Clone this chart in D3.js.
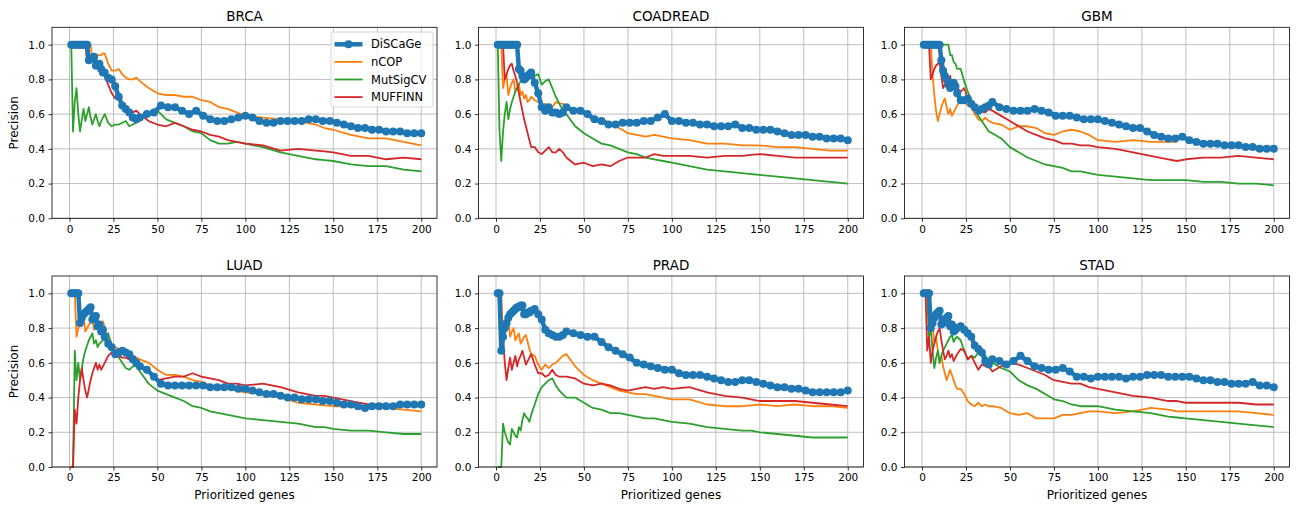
<!DOCTYPE html>
<html>
<head>
<meta charset="utf-8">
<script src="https://cdn.jsdelivr.net/npm/d3@7/dist/d3.min.js"></script>
<style>
    body { margin: 0; background: #fff; }
    text { font-family: "DejaVu Sans", sans-serif; fill: #000; }
</style>
</head>
<body>
<div id="chart"></div>
<script>
// x positions (prioritized genes) where the thin lines were read
const genesThin = [1,2,3,4,5,6,7,8,9,10,11,12,13,14,15,16,17,18,19,20,
    22,24,26,28,30,32,34,36,38,40,
    45,50,55,60,65,70,75,80,85,90,95,100,
    110,120,130,140,145,150,160,170,180,190,200];
// x positions for DiSCaGe (drawn with markers, so a denser read)
const genesDisc = [1,2,3,4,5,6,7,8,9,10,11,12,13,14,15,16,17,18,19,20,
    22,24,26,28,30,32,34,36,38,40,
    44,48,52,56,60,64,68,72,76,80,84,88,92,96,100,104,108,112,116,120,
    124,128,132,136,140,144,148,152,156,160,164,168,172,176,180,184,188,192,196,200];

const panels = ["BRCA", "COADREAD", "GBM", "LUAD", "PRAD", "STAD"];
const methods = ["DiSCaGe", "nCOP", "MutSigCV", "MUFFINN"];
const colors = ["#1f77b4", "#ff7f0e", "#2ca02c", "#d62728"];
const xTicks = [0, 25, 50, 75, 100, 125, 150, 175, 200];
const yTicks = [0, 0.2, 0.4, 0.6, 0.8, 1.0];

// BRCA
const brcaDiscage = [1,1,1,1,1,1,1,1,1,1,0.91,0.92,0.92,0.93,0.88,0.88,0.89,0.86,0.84,0.84,
    0.81,0.80,0.76,0.70,0.65,0.63,0.61,0.58,0.57,0.58,
    0.60,0.61,0.65,0.64,0.64,0.62,0.60,0.62,0.59,0.57,0.56,0.56,0.57,0.58,0.59,0.58,0.56,0.55,0.55,0.56,
    0.56,0.56,0.56,0.57,0.57,0.56,0.56,0.55,0.54,0.53,0.52,0.52,0.51,0.51,0.50,0.50,0.50,0.49,0.49,0.49];
const brcaNcop = [1,1,1,1,1,1,1,1,1,1,1,1,0.92,0.93,0.93,0.94,0.94,0.94,0.95,0.95,
    0.89,0.85,0.85,0.86,0.83,0.81,0.80,0.80,0.81,0.79,
    0.75,0.72,0.71,0.71,0.70,0.70,0.68,0.67,0.64,0.63,0.61,0.59,
    0.58,0.57,0.56,0.54,0.52,0.51,0.48,0.46,0.46,0.44,0.42];
const brcaMutsig = [1,0.5,0.67,0.75,0.6,0.5,0.57,0.63,0.56,0.6,0.64,0.58,0.54,0.57,0.6,0.56,0.53,0.56,0.58,0.6,
    0.55,0.53,0.54,0.54,0.55,0.56,0.53,0.54,0.55,0.58,
    0.60,0.62,0.57,0.55,0.53,0.50,0.49,0.45,0.43,0.43,0.44,0.43,
    0.41,0.38,0.36,0.34,0.335,0.33,0.31,0.30,0.30,0.28,0.27];
const brcaMuffinn = [1,1,1,1,1,1,1,1,1,0.9,0.91,0.92,0.92,0.93,0.93,0.88,0.88,0.85,0.84,0.82,
    0.77,0.72,0.69,0.70,0.65,0.62,0.60,0.61,0.62,0.60,
    0.56,0.54,0.53,0.55,0.53,0.51,0.50,0.48,0.47,0.45,0.44,0.43,
    0.42,0.39,0.40,0.39,0.385,0.38,0.36,0.36,0.34,0.35,0.34];

// COADREAD
const coadDiscage = [1,1,1,1,1,1,1,1,1,1,1,1,0.86,0.85,0.82,0.80,0.81,0.82,0.83,0.84,
    0.78,0.72,0.64,0.62,0.64,0.61,0.61,0.60,0.61,0.64,
    0.62,0.62,0.60,0.57,0.56,0.54,0.54,0.55,0.55,0.55,0.56,0.56,0.58,0.60,0.56,0.56,0.55,0.55,0.54,0.54,
    0.53,0.53,0.53,0.54,0.52,0.52,0.51,0.51,0.51,0.50,0.49,0.48,0.48,0.48,0.47,0.47,0.46,0.46,0.46,0.45];
const coadNcop = [1,1,1,0.75,0.8,0.83,0.71,0.75,0.78,0.8,0.73,0.75,0.77,0.71,0.73,0.69,0.71,0.67,0.68,0.7,
    0.68,0.67,0.65,0.66,0.65,0.64,0.67,0.66,0.66,0.63,
    0.62,0.60,0.58,0.57,0.55,0.52,0.49,0.48,0.47,0.48,0.47,0.46,
    0.45,0.43,0.43,0.42,0.42,0.42,0.41,0.41,0.40,0.39,0.39];
const coadMutsig = [1,0.5,0.33,0.5,0.6,0.67,0.57,0.63,0.67,0.7,0.73,0.75,0.77,0.79,0.8,0.81,0.82,0.83,0.84,0.85,
    0.82,0.83,0.77,0.79,0.80,0.75,0.70,0.66,0.62,0.60,
    0.53,0.49,0.46,0.43,0.42,0.40,0.38,0.37,0.35,0.34,0.33,0.32,
    0.30,0.28,0.27,0.26,0.255,0.25,0.24,0.23,0.22,0.21,0.20];
const coadMuffinn = [1,1,1,1,0.8,0.83,0.86,0.88,0.89,0.85,0.82,0.78,0.72,0.67,0.62,0.57,0.53,0.49,0.45,0.41,
    0.41,0.38,0.37,0.39,0.41,0.38,0.38,0.40,0.38,0.35,
    0.31,0.32,0.30,0.31,0.30,0.33,0.35,0.35,0.35,0.37,0.36,0.36,
    0.36,0.35,0.36,0.36,0.365,0.37,0.36,0.35,0.35,0.35,0.35];

// GBM
const gbmDiscage = [1,1,1,1,1,1,1,1,1,1,0.91,0.85,0.82,0.80,0.77,0.75,0.77,0.78,0.76,0.72,
    0.68,0.68,0.69,0.66,0.64,0.62,0.63,0.64,0.65,0.67,
    0.64,0.63,0.62,0.62,0.62,0.63,0.62,0.61,0.59,0.59,0.59,0.58,0.57,0.57,0.57,0.56,0.55,0.54,0.53,0.52,
    0.52,0.50,0.48,0.47,0.46,0.46,0.47,0.45,0.44,0.43,0.43,0.43,0.42,0.42,0.42,0.41,0.41,0.40,0.40,0.40];
const gbmNcop = [1,1,1,1,1,0.83,0.71,0.62,0.56,0.6,0.64,0.67,0.69,0.64,0.6,0.63,0.59,0.61,0.63,0.65,
    0.68,0.67,0.65,0.64,0.60,0.57,0.56,0.58,0.56,0.55,
    0.54,0.51,0.53,0.53,0.52,0.49,0.48,0.50,0.51,0.50,0.48,0.45,
    0.44,0.45,0.44,0.44,0.44,null,null,null,null,null,null];
const gbmMutsig = [1,1,1,1,1,1,1,1,1,1,1,1,1,1,1,0.94,0.94,0.9,0.89,0.86,
    0.86,0.79,0.73,0.68,0.63,0.59,0.56,0.53,0.50,0.49,
    0.46,0.41,0.38,0.35,0.33,0.31,0.30,0.29,0.27,0.27,0.26,0.25,
    0.24,0.23,0.22,0.22,0.22,0.22,0.21,0.21,0.20,0.20,0.19];
const gbmMuffinn = [1,1,1,1,0.8,0.83,0.86,0.88,0.89,0.9,0.82,0.75,0.77,0.79,0.8,0.82,0.76,0.78,0.74,0.75,
    0.73,0.75,0.69,0.68,0.65,0.63,0.62,0.61,0.63,0.62,
    0.59,0.56,0.53,0.50,0.48,0.46,0.45,0.43,0.43,0.42,0.42,0.41,
    0.40,0.38,0.36,0.34,0.33,0.34,0.35,0.35,0.36,0.35,0.34];

// LUAD
const luadDiscage = [1,1,1,1,1,0.83,0.86,0.88,0.89,0.9,0.91,0.92,0.85,0.86,0.87,0.81,0.82,0.78,0.79,0.75,
    0.71,0.69,0.65,0.66,0.67,0.66,0.65,0.62,0.60,0.58,
    0.56,0.52,0.48,0.47,0.47,0.47,0.47,0.47,0.47,0.46,0.46,0.46,0.46,0.45,0.45,0.44,0.43,0.42,0.42,0.41,
    0.40,0.40,0.39,0.39,0.39,0.38,0.38,0.37,0.36,0.36,0.35,0.34,0.35,0.35,0.35,0.35,0.36,0.36,0.36,0.36];
const luadNcop = [1,1,1,0.75,0.8,0.83,0.86,0.88,0.78,0.8,0.82,0.83,0.85,0.79,0.8,0.81,0.82,0.83,0.84,0.8,
    0.73,0.70,0.69,0.68,0.67,0.66,0.64,0.64,0.63,0.62,
    0.60,0.56,0.53,0.53,0.52,0.50,0.49,0.47,0.45,0.45,0.44,0.43,
    0.42,0.40,0.37,0.36,0.355,0.35,0.35,0.34,0.34,0.33,0.32];
const luadMutsig = [0,0,0.67,0.5,0.6,0.5,0.57,0.63,0.67,0.7,0.73,0.75,0.77,0.71,0.73,0.69,0.71,0.72,0.73,0.74,
    0.77,0.70,0.66,0.63,0.60,0.57,0.56,0.58,0.58,0.55,
    0.48,0.44,0.42,0.40,0.38,0.35,0.34,0.32,0.31,0.30,0.29,0.28,
    0.27,0.26,0.25,0.23,0.23,0.22,0.21,0.21,0.20,0.19,0.19];
const luadMuffinn = [0,0,0.33,0.25,0.4,0.5,0.57,0.5,0.44,0.4,0.45,0.5,0.54,0.57,0.6,0.56,0.59,0.56,0.58,0.6,
    0.64,0.66,0.65,0.64,0.63,0.63,0.62,0.61,0.59,0.58,
    0.56,0.50,0.51,0.52,0.52,0.54,0.52,0.51,0.50,0.48,0.48,0.47,
    0.48,0.46,0.43,0.41,0.41,0.40,0.38,0.36,0.36,0.35,0.35];

// PRAD
const pradDiscage = [1,1,0.67,0.75,0.8,0.83,0.86,0.88,0.89,0.9,0.91,0.92,0.92,0.93,0.93,0.88,0.88,0.89,0.89,0.9,
    0.91,0.88,0.85,0.79,0.77,0.76,0.75,0.75,0.76,0.78,
    0.77,0.76,0.75,0.75,0.72,0.69,0.67,0.65,0.63,0.60,0.59,0.58,0.57,0.56,0.56,0.54,0.53,0.53,0.53,0.52,
    0.51,0.50,0.49,0.49,0.50,0.50,0.49,0.48,0.47,0.46,0.46,0.45,0.45,0.44,0.43,0.43,0.43,0.43,0.43,0.44];
const pradNcop = [1,1,1,0.75,0.8,0.83,0.86,0.75,0.78,0.8,0.73,0.75,0.77,0.71,0.73,0.75,0.76,0.72,0.68,0.65,
    0.64,0.59,0.56,0.59,0.57,0.59,0.60,0.62,0.64,0.65,
    0.58,0.53,0.50,0.48,0.46,0.44,0.43,0.42,0.42,0.41,0.40,0.39,
    0.39,0.36,0.35,0.35,0.355,0.36,0.35,0.36,0.35,0.35,0.34];
const pradMutsig = [0,0,0,0.25,0.2,0.17,0.14,0.13,0.22,0.2,0.18,0.17,0.23,0.21,0.27,0.31,0.29,0.28,0.26,0.3,
    0.36,0.42,0.46,0.48,0.50,0.51,0.47,0.44,0.42,0.40,
    0.40,0.37,0.34,0.33,0.31,0.31,0.30,0.29,0.28,0.28,0.27,0.26,
    0.25,0.23,0.22,0.21,0.21,0.20,0.19,0.18,0.17,0.17,0.17];
const pradMuffinn = [1,1,0.67,0.75,0.6,0.5,0.57,0.63,0.56,0.6,0.64,0.58,0.62,0.64,0.67,0.63,0.59,0.61,0.63,0.65,
    0.59,0.54,0.54,0.52,0.53,0.56,0.53,0.52,0.52,0.52,
    0.51,0.48,0.47,0.48,0.47,0.45,0.44,0.45,0.46,0.45,0.46,0.45,
    0.46,0.43,0.41,0.40,0.39,0.38,0.38,0.38,0.37,0.36,0.35];

// STAD
const stadDiscage = [1,1,1,1,0.8,0.83,0.86,0.88,0.89,0.9,0.82,0.83,0.85,0.86,0.87,0.81,0.82,0.78,0.79,0.8,
    0.81,0.79,0.77,0.75,0.70,0.68,0.66,0.61,0.59,0.62,
    0.61,0.59,0.61,0.64,0.61,0.58,0.57,0.56,0.56,0.57,0.55,0.52,0.52,0.51,0.52,0.52,0.52,0.52,0.51,0.52,
    0.52,0.53,0.53,0.53,0.52,0.52,0.52,0.52,0.51,0.50,0.50,0.49,0.49,0.48,0.48,0.48,0.49,0.47,0.47,0.46];
const stadNcop = [1,1,1,0.75,0.8,0.83,0.71,0.75,0.67,0.6,0.64,0.58,0.54,0.5,0.53,0.56,0.53,0.5,0.47,0.45,
    0.45,0.42,0.38,0.36,0.35,0.37,0.35,0.36,0.35,0.35,
    0.34,0.31,0.30,0.31,0.28,0.28,0.28,0.30,0.30,0.31,0.32,0.32,
    0.31,0.32,0.34,0.33,0.32,0.32,0.32,0.32,0.32,0.31,0.30];
const stadMutsig = [1,1,1,0.75,0.8,0.67,0.57,0.63,0.67,0.6,0.64,0.67,0.69,0.71,0.73,0.75,0.76,0.72,0.74,0.75,
    0.73,0.67,0.62,0.64,0.63,0.66,0.68,0.64,0.61,0.60,
    0.57,0.55,0.50,0.47,0.45,0.42,0.39,0.38,0.36,0.35,0.35,0.35,
    0.33,0.32,0.31,0.29,0.285,0.28,0.27,0.26,0.25,0.24,0.23];
const stadMuffinn = [1,1,0.67,0.75,0.6,0.67,0.71,0.75,0.78,0.8,0.73,0.67,0.62,0.64,0.67,0.63,0.65,0.61,0.63,0.65,
    0.68,0.67,0.62,0.64,0.60,0.56,0.59,0.58,0.58,0.55,
    0.58,0.60,0.59,0.57,0.55,0.53,0.50,0.49,0.48,0.48,0.46,0.45,
    0.43,0.41,0.40,0.38,0.38,0.37,0.37,0.37,0.37,0.36,0.36];

const panelSeries = {
    BRCA: [brcaDiscage, brcaNcop, brcaMutsig, brcaMuffinn],
    COADREAD: [coadDiscage, coadNcop, coadMutsig, coadMuffinn],
    GBM: [gbmDiscage, gbmNcop, gbmMutsig, gbmMuffinn],
    LUAD: [luadDiscage, luadNcop, luadMutsig, luadMuffinn],
    PRAD: [pradDiscage, pradNcop, pradMutsig, pradMuffinn],
    STAD: [stadDiscage, stadNcop, stadMutsig, stadMuffinn]
};

const dims = {width: 1303, height: 510};
const cols = [52, 478.5, 904.5];
const rows = [27.3, 276];
const pw = 385, ph = 191;

const svg = d3.select("#chart")
    .append("svg")
    .attr("width", dims.width)
    .attr("height", dims.height);

const xScale = d3.scaleLinear().domain([-9.95, 208.95]).range([0, pw]);
const yScale = d3.scaleLinear().domain([0, 1.1]).range([ph, 0]);

const line = d3.line()
    .defined(d => d[1] != null)
    .x(d => xScale(d[0]))
    .y(d => yScale(d[1]));

panels.forEach((name, i) => {
    const col = i % 3, row = Math.floor(i / 3);
    const g = svg.append("g")
        .attr("transform", `translate(${cols[col]},${rows[row]})`);

    // grid
    g.append("g").selectAll("line").data(xTicks).join("line")
        .attr("x1", d => xScale(d)).attr("x2", d => xScale(d))
        .attr("y1", 0).attr("y2", ph)
        .attr("stroke", "#b0b0b0").attr("stroke-width", 0.8);
    g.append("g").selectAll("line").data(yTicks).join("line")
        .attr("x1", 0).attr("x2", pw)
        .attr("y1", d => yScale(d)).attr("y2", d => yScale(d))
        .attr("stroke", "#b0b0b0").attr("stroke-width", 0.8);

    // axes
    const xAxis = g.append("g")
        .attr("transform", `translate(0,${ph})`)
        .call(d3.axisBottom(xScale).tickValues(xTicks).tickFormat(d3.format("d")).tickSize(3.5).tickPadding(3.5));
    const yAxis = g.append("g")
        .call(d3.axisLeft(yScale).tickValues(yTicks).tickFormat(d3.format(".1f")).tickSize(3.5).tickPadding(3.5));
    [xAxis, yAxis].forEach(a => {
        a.select(".domain").remove();
        a.selectAll("line").attr("stroke", "#000").attr("stroke-width", 0.8);
        a.selectAll("text").attr("font-size", 10.5).attr("font-family", "DejaVu Sans").attr("fill", "#000");
    });

    const data = panelSeries[name];

    // thin lines first, DiSCaGe on top
    [1, 2, 3].forEach(k => {
        const pts = genesThin.map((gx, j) => [gx, data[k][j]]);
        g.append("path")
            .datum(pts)
            .attr("d", line)
            .attr("fill", "none")
            .attr("stroke", colors[k])
            .attr("stroke-width", 1.8)
            .attr("stroke-linejoin", "round");
    });

    const disc = genesDisc.map((gx, j) => [gx, data[0][j]]);
    g.append("path")
        .datum(disc)
        .attr("d", line)
        .attr("fill", "none")
        .attr("stroke", colors[0])
        .attr("stroke-width", 4.5)
        .attr("stroke-linejoin", "round");
    g.append("g").selectAll("circle").data(disc).join("circle")
        .attr("cx", d => xScale(d[0]))
        .attr("cy", d => yScale(d[1]))
        .attr("r", 4)
        .attr("fill", colors[0]);

    // frame
    g.append("rect")
        .attr("width", pw).attr("height", ph)
        .attr("fill", "none").attr("stroke", "#000").attr("stroke-width", 0.8);

    // title
    g.append("text")
        .attr("x", pw / 2).attr("y", -6.5)
        .attr("text-anchor", "middle")
        .attr("font-size", 13.5)
        .text(name);

    if (col == 0) {
        g.append("text")
            .attr("transform", `translate(${14 - cols[0]},${ph / 2}) rotate(-90)`)
            .attr("text-anchor", "middle")
            .attr("dy", "0.35em")
            .attr("font-size", 12)
            .text("Precision");
    }
    if (row == 1) {
        g.append("text")
            .attr("x", pw / 2).attr("y", ph + 31.5)
            .attr("text-anchor", "middle")
            .attr("font-size", 12)
            .text("Prioritized genes");
    }

    // legend in first panel
    if (i == 0) {
        const lg = g.append("g").attr("transform", "translate(279,4.7)");
        lg.append("rect")
            .attr("width", 102).attr("height", 75)
            .attr("rx", 2.5)
            .attr("fill", "#fff").attr("fill-opacity", 0.8)
            .attr("stroke", "#cccccc").attr("stroke-width", 0.8);
        methods.forEach((m, k) => {
            const ly = 12.3 + k * 17.6;
            lg.append("line")
                .attr("x1", 3.5).attr("x2", 31.5)
                .attr("y1", ly).attr("y2", ly)
                .attr("stroke", colors[k])
                .attr("stroke-width", k == 0 ? 4.5 : 1.8);
            if (k == 0) {
                lg.append("circle").attr("cx", 17.5).attr("cy", ly).attr("r", 4).attr("fill", colors[0]);
            }
            lg.append("text")
                .attr("x", 40).attr("y", ly)
                .attr("dy", "0.35em")
                .attr("font-size", 11.5)
                .text(m);
        });
    }
});
</script>
</body>
</html>
